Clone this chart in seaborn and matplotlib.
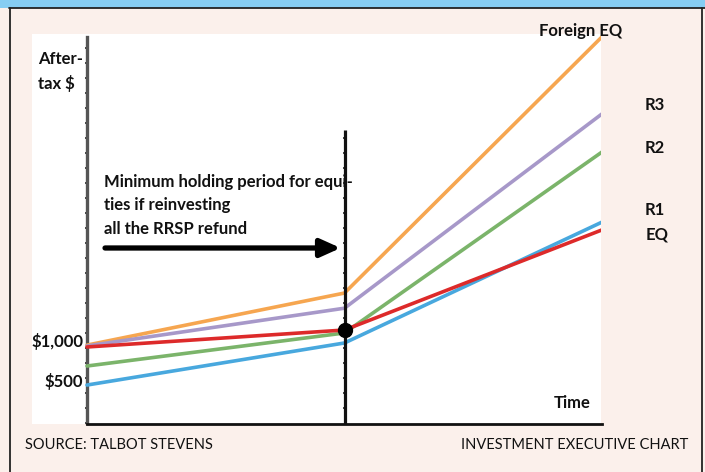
import matplotlib
matplotlib.use("Agg")
import matplotlib.pyplot as plt
import numpy as np
import pandas as pd
import seaborn as sns
from matplotlib.patches import Rectangle
from matplotlib.lines import Line2D
from matplotlib.ticker import MultipleLocator, NullFormatter, NullLocator

# ---- data ----
time_points = [0, 1, 2]
foreign_eq = [950, 1585, 4710]
r3 = [940, 1400, 3770]
r2 = [695, 1098, 3305]
r1 = [463, 976, 2450]
eq = [927, 1134, 2355]
series_names = ["Foreign EQ", "R3", "R2", "R1", "EQ"]
series_colors = ["#F6A650", "#A798C9", "#7BB46A", "#48A8DE", "#DD2A2A"]
ytick_values = [500, 1000]
ytick_labels = ["$500", "$1,000"]

W, H = 705, 472
sns.set_theme(style="white")
FONT = ["Lato", "DejaVu Sans"]
plt.rcParams["font.family"] = FONT

fig = plt.figure(figsize=(W / 100, H / 100), dpi=100)
fig.patch.set_facecolor("#FBF0EB")


def fx(x):
    return x / W


def fy(y):
    return 1 - y / H


# header band and borders
fig.patches.append(Rectangle((0, fy(7.5)), 1, 7.5 / H, transform=fig.transFigure,
                             facecolor="#86CDF3", edgecolor="none", zorder=0))
fig.lines.append(Line2D([fx(9), 1], [fy(7.8), fy(7.8)], transform=fig.transFigure,
                        color="#222222", lw=1.3))
fig.lines.append(Line2D([fx(9.5), fx(9.5)], [0, fy(7.8)], transform=fig.transFigure,
                        color="#222222", lw=1.3))
fig.lines.append(Line2D([fx(702), fx(702)], [0, fy(7.8)], transform=fig.transFigure,
                        color="#222222", lw=1.3))

# axes (white area)
left_px, right_px, top_px, bot_px = 32, 601, 34, 424
ax = fig.add_axes([fx(left_px), fy(bot_px), (right_px - left_px) / W, (bot_px - top_px) / H])
ax.set_facecolor("white")

px_per_unit_y = 0.082
px_per_unit_x = (602 - 87) / 2.0
ax.set_xlim(-(87 - left_px) / px_per_unit_x, (right_px - 87) / px_per_unit_x)
ax.set_ylim((423 - bot_px) / px_per_unit_y, (423 - top_px) / px_per_unit_y)

df = pd.DataFrame({
    "time": time_points * 5,
    "value": foreign_eq + r3 + r2 + r1 + eq,
    "series": sum([[n] * 3 for n in series_names], []),
})
sns.lineplot(data=df, x="time", y="value", hue="series", hue_order=series_names,
             palette=series_colors, lw=2.6, legend=False, ax=ax, zorder=3)

for s in ["top", "right"]:
    ax.spines[s].set_visible(False)
ax.spines["left"].set_position(("data", 0))
ax.spines["left"].set_bounds(0, (423 - 37) / px_per_unit_y)
ax.spines["left"].set_color("#555555")
ax.spines["left"].set_linewidth(2.4)
ax.spines["bottom"].set_bounds(0, 2)
ax.spines["bottom"].set_color("#111111")
ax.spines["bottom"].set_linewidth(2.0)
ax.xaxis.set_major_locator(NullLocator())
ax.yaxis.set_major_locator(NullLocator())
tick_step = 15 / px_per_unit_y
ax.yaxis.set_minor_locator(MultipleLocator(tick_step))
ax.yaxis.set_minor_formatter(NullFormatter())
ax.tick_params(axis="y", which="minor", direction="inout", length=3.5, width=1.1,
               color="#111111", left=True)
ax.set_xlabel("")
ax.set_ylabel("")

# middle vertical line with ticks
mid_top = (423 - 130) / px_per_unit_y
ax.vlines(1, ax.get_ylim()[0], mid_top, color="#111111", lw=2.3, zorder=4)
ticks = np.arange(tick_step, mid_top, tick_step)
ax.plot(np.ones_like(ticks), ticks, ls="none", marker="_", ms=3.5, mew=1.1,
        color="#111111", zorder=4)
ax.plot([1], [eq[1]], marker="o", ms=10, color="black", zorder=6)

# y labels
for v, lab in zip(ytick_values, ytick_labels):
    ax.text(-0.015, v, lab, ha="right", va="center", fontsize=12, fontweight="bold",
            color="#111111", family=FONT)

# arrow
ax.annotate("", xy=(0.985, (423 - 248) / px_per_unit_y),
            xytext=(0.07, (423 - 248) / px_per_unit_y),
            arrowprops=dict(arrowstyle="-|>,head_length=1.0,head_width=0.45",
                            lw=3.8, color="black", shrinkA=0, shrinkB=0), zorder=5)

bold = dict(fontsize=12, fontweight="bold", color="#111111", family=FONT)
fig.text(fx(104), fy(182), "Minimum holding period for equi-", ha="left", va="center", **bold)
fig.text(fx(104), fy(205), "ties if reinvesting", ha="left", va="center", **bold)
fig.text(fx(104), fy(229), "all the RRSP refund", ha="left", va="center", **bold)

fig.text(fx(38), fy(59), "After-", ha="left", va="center", **bold)
fig.text(fx(38), fy(83), "tax $", ha="left", va="center", **bold)

fig.text(fx(591), fy(403), "Time", ha="right", va="center", **bold)

fig.text(fx(539), fy(31), "Foreign EQ", ha="left", va="center", **bold)
fig.text(fx(645), fy(105), "R3", ha="left", va="center", **bold)
fig.text(fx(645), fy(148), "R2", ha="left", va="center", **bold)
fig.text(fx(645), fy(210), "R1", ha="left", va="center", **bold)
fig.text(fx(646), fy(235), "EQ", ha="left", va="center", **bold)

foot = dict(fontsize=10.5, color="#111111", family=FONT)
fig.text(fx(25), fy(445), "SOURCE: TALBOT STEVENS", ha="left", va="center", **foot)
fig.text(fx(688), fy(445), "INVESTMENT EXECUTIVE CHART", ha="right", va="center", **foot)

fig.savefig("out.png", dpi=100, facecolor=fig.get_facecolor())
